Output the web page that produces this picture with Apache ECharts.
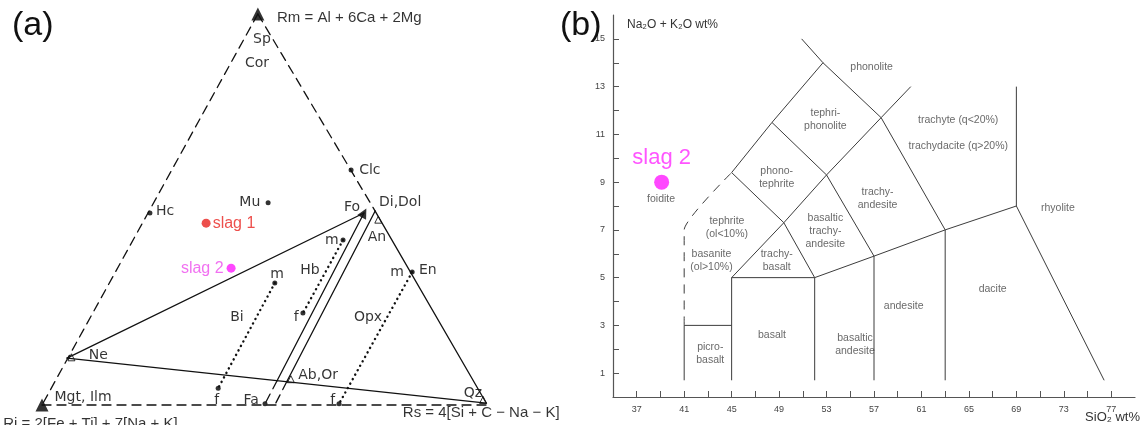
<!DOCTYPE html>
<html>
<head>
<meta charset="utf-8">
<script src="https://cdn.jsdelivr.net/npm/echarts@6/dist/echarts.min.js"></script>
<style>
  html, body { margin: 0; background: #fff; }
  #chart { width: 1142px; height: 425px; }
</style>
</head>
<body>
<div id="chart"></div>
<script>
// ---------- (a) Rm - Rs - Ri diagram, diagram units: base 0..100, apex height 100 ----------
const apexRm = [48.4, 100]
const cornerRi = [0, 0]
const cornerRs = [100, 0]
const ptDi = [74.7, 49.6]
const ptFo = [72.2, 49.1]
const ptNe = [5.6, 12.0]
const ptQz = [99.6, 0.5]
const ptAbOr = [54.9, 6.0]
const ptFa = [50.0, 0.3]
const footFo = [52.7, 6.2]
const footAn = [52.2, 0]

const solidEdges = [[ptNe, ptFo], [ptNe, ptQz], [ptDi, ptQz], [ptFo, footFo], [ptDi, ptAbOr]]
const dashedEdges = [[apexRm, cornerRi], [cornerRi, cornerRs], [apexRm, ptDi], [footFo, ptFa], [ptAbOr, footAn]]
// tie lines m -> f
const tieBi = [[52.2, 31.2], [39.5, 4.3]]
const tieHb = [[67.5, 42.2], [58.5, 23.5]]
const tieOpx = [[83.0, 34.0], [66.6, 0.3]]

const mineralDots = [[24.2, 49.1], [50.7, 51.7], [69.3, 60.1], [52.2, 31.2], [39.5, 4.3],
  [67.5, 42.2], [58.5, 23.5], [83.0, 34.0], [66.6, 0.3], [50.0, 0.3]]
const angleMarks = [[6.6, 12.2], [55.8, 6.6], [98.9, 1.3], [75.4, 47.4]]

const slagNames = ['slag 1', 'slag 2']
const slagPoints = [[36.8, 46.5], [42.4, 35.0]]

const labelsA = [
  ['Sp', 49.3, 93.4], ['Cor', 48.2, 87.5], ['Hc', 27.6, 49.4], ['Mu', 46.6, 51.9],
  ['Clc', 73.5, 60.1], ['Fo', 69.5, 50.6], ['Di,Dol', 80.3, 51.7], ['An', 75.1, 43.0],
  ['m', 65.0, 42.2], ['Hb', 60.1, 34.5], ['f', 57.0, 22.5],
  ['m', 52.7, 33.5], ['Bi', 43.7, 22.3], ['f', 39.2, 1.3],
  ['Ne', 12.6, 12.8], ['Mgt, Ilm', 9.2, 2.0], ['Fa', 46.9, 1.3], ['Ab,Or', 61.9, 7.7],
  ['Opx', 73.1, 22.5], ['m', 79.6, 34.0], ['En', 86.5, 34.5], ['f', 65.2, 1.3], ['Qz', 96.6, 3.1]
]
const formulaLabels = [
  ['Rm = Al + 6Ca + 2Mg', 52.7, 99.0],
  ['Rs = 4[Si + C − Na − K]', 80.9, -2.0],
  ['Ri = 2[Fe + Ti] + 7[Na + K]', -8.7, -4.9]
]

// ---------- (b) TAS diagram ----------
const silicaTicks = [37, 39, 41, 43, 45, 47, 49, 51, 53, 55, 57, 59, 61, 63, 65, 67, 69, 71, 73, 75, 77]
const silicaLabels = [37, 41, 45, 49, 53, 57, 61, 65, 69, 73, 77]
const alkaliTicks = [1, 2, 3, 4, 5, 6, 7, 8, 9, 10, 11, 12, 13, 14, 15]
const alkaliLabels = [1, 3, 5, 7, 9, 11, 13, 15]

const tasSolid = [
  [[41, 0.7], [41, 3], [45, 3]],
  [[45, 0.7], [45, 5], [52, 5], [52, 0.7]],
  [[52, 5], [57, 5.9], [57, 0.7]],
  [[57, 5.9], [63, 7], [63, 0.7]],
  [[63, 7], [69, 8], [76.4, 0.7]],
  [[69, 8], [69, 13]],
  [[45, 5], [49.4, 7.3], [52, 5]],
  [[49.4, 7.3], [53, 9.3], [57, 5.9]],
  [[53, 9.3], [57.6, 11.7], [63, 7]],
  [[45, 9.4], [49.4, 7.3]],
  [[45, 9.4], [48.4, 11.5], [53, 9.3]],
  [[48.4, 11.5], [52.7, 14], [57.6, 11.7]],
  [[52.7, 14], [50.9, 15]],
  [[57.6, 11.7], [60.1, 13]]
]
const tasDashed = [[41, 3], [41, 7], [45, 9.4]]

const tasLabels = [
  ['phonolite', 56.8, 13.8], ['tephri-\nphonolite', 52.9, 11.6],
  ['trachyte (q<20%)', 64.1, 11.6], ['trachydacite (q>20%)', 64.1, 10.5],
  ['phono-\ntephrite', 48.8, 9.2], ['foidite', 39.05, 8.3],
  ['tephrite\n(ol<10%)', 44.6, 7.1], ['basanite\n(ol>10%)', 43.3, 5.7],
  ['trachy-\nbasalt', 48.8, 5.7], ['basaltic\ntrachy-\nandesite', 52.9, 6.95],
  ['trachy-\nandesite', 57.3, 8.3], ['rhyolite', 72.5, 7.9],
  ['basalt', 48.4, 2.6], ['picro-\nbasalt', 43.2, 1.8],
  ['basaltic\nandesite', 55.4, 2.2], ['andesite', 59.5, 3.8], ['dacite', 67, 4.5]
]
const slag2Tas = [39.1, 9.0]

const ink = '#000'
const tasInk = '#3c3c3c'

const segSeries = (pts, type, width) => ({
  type: 'line', xAxisIndex: 0, yAxisIndex: 0, data: pts, symbol: 'none', silent: true,
  clip: false, lineStyle: { color: '#111', width: width, type: type, cap: 'round' }
})

const series = []
solidEdges.forEach(s => series.push(segSeries(s, 'solid', 1.3)))
dashedEdges.forEach(s => series.push(segSeries(s, [9, 6], 1.3)))
;[tieBi, tieHb, tieOpx].forEach(s => series.push(segSeries(s, [0.1, 5], 2.4)))

series.push({
  type: 'scatter', xAxisIndex: 0, yAxisIndex: 0, data: mineralDots, symbolSize: 5,
  itemStyle: { color: ink }, silent: true, clip: false
})
series.push({
  type: 'scatter', xAxisIndex: 0, yAxisIndex: 0, symbol: 'triangle', silent: true, clip: false,
  data: [
    { value: apexRm, symbolSize: 13 },
    { value: cornerRi, symbolSize: 13 },
    { value: ptFo, symbolSize: 10, symbolRotate: -28 }
  ],
  itemStyle: { color: ink }
})
series.push({
  type: 'scatter', xAxisIndex: 0, yAxisIndex: 0, symbol: 'triangle', symbolSize: 7, silent: true,
  clip: false, data: angleMarks, itemStyle: { color: '#fff', borderColor: ink, borderWidth: 1 }
})
series.push({
  type: 'scatter', xAxisIndex: 0, yAxisIndex: 0, symbolSize: 0, silent: true, clip: false,
  data: labelsA.map(d => ({ value: [d[1], d[2]], name: d[0] })),
  label: {
    show: true, position: 'inside', formatter: p => p.name,
    fontFamily: 'DejaVu Sans', fontSize: 14, color: ink
  }
})
series.push({
  type: 'scatter', xAxisIndex: 0, yAxisIndex: 0, symbolSize: 0, silent: true, clip: false,
  data: formulaLabels.map(d => ({ value: [d[1], d[2]], name: d[0] })),
  label: {
    show: true, position: 'right', distance: 0, formatter: p => p.name,
    fontFamily: 'Liberation Sans', fontSize: 15, color: ink
  }
})
series.push({
  type: 'scatter', xAxisIndex: 0, yAxisIndex: 0, silent: true, clip: false,
  data: [
    { value: slagPoints[0], name: slagNames[0], itemStyle: { color: '#e8231f' },
      label: { position: 'right', distance: 2, color: '#e8231f' } },
    { value: slagPoints[1], name: slagNames[1], itemStyle: { color: '#ff1aff' },
      label: { position: 'left', distance: 3, color: '#ee4cee' } }
  ],
  symbolSize: 9,
  label: { show: true, formatter: p => p.name, fontFamily: 'Liberation Sans', fontSize: 16 }
})

// (b)
tasSolid.forEach(s => series.push({
  type: 'line', xAxisIndex: 1, yAxisIndex: 1, data: s, symbol: 'none', silent: true,
  lineStyle: { color: tasInk, width: 1 }
}))
series.push({
  type: 'line', xAxisIndex: 1, yAxisIndex: 1, data: tasDashed, symbol: 'none', silent: true,
  smooth: 0.15, lineStyle: { color: tasInk, width: 1, type: [9, 7] }
})
series.push({
  type: 'scatter', xAxisIndex: 1, yAxisIndex: 1, symbolSize: 0, silent: true,
  data: tasLabels.map(d => ({ value: [d[1], d[2]], name: d[0] })),
  label: {
    show: true, position: 'inside', formatter: p => p.name, lineHeight: 13,
    fontFamily: 'Liberation Sans', fontSize: 10.5, color: '#444'
  }
})
series.push({
  type: 'scatter', xAxisIndex: 1, yAxisIndex: 1, silent: true,
  data: [{ value: slag2Tas, name: 'slag 2' }], symbolSize: 15,
  itemStyle: { color: '#ff1aff' },
  label: {
    show: true, position: 'top', distance: 6, formatter: p => p.name,
    fontFamily: 'Liberation Sans', fontSize: 22, color: '#ff2bff'
  }
})

const chart = echarts.init(document.getElementById('chart'))
chart.setOption({
  animation: false,
  backgroundColor: '#fff',
  title: [
    { text: '(a)', left: 7, top: 4, textStyle: { fontSize: 34, fontWeight: 'normal', color: '#111', fontFamily: 'Liberation Sans' } },
    { text: '(b)', left: 555, top: 4, textStyle: { fontSize: 34, fontWeight: 'normal', color: '#111', fontFamily: 'Liberation Sans' } }
  ],
  grid: [
    { left: 42, top: 14, width: 446, height: 391, outerBoundsMode: 'none' },
    { left: 613, top: 15, right: 7, bottom: 28, outerBoundsMode: 'none' }
  ],
  xAxis: [
    { gridIndex: 0, type: 'value', min: 0, max: 100, show: false },
    {
      gridIndex: 1, type: 'value', min: 35, max: 79,
      splitLine: { show: false },
      axisLine: { lineStyle: { color: '#555', width: 1.2 } },
      axisTick: { inside: true, length: 6, customValues: silicaTicks, lineStyle: { color: '#555' } },
      axisLabel: { customValues: silicaLabels, fontSize: 9, color: '#444', margin: 8, fontFamily: 'Liberation Sans' },
      name: 'SiO₂ wt%', nameLocation: 'end', nameGap: 5, nameMoveOverlap: false,
      nameTextStyle: { align: 'right', verticalAlign: 'top', padding: [14, 0, 0, 0], fontSize: 13, color: '#333', fontFamily: 'Liberation Sans' }
    }
  ],
  yAxis: [
    { gridIndex: 0, type: 'value', min: 0, max: 100, show: false },
    {
      gridIndex: 1, type: 'value', min: 0, max: 16,
      splitLine: { show: false },
      axisLine: { show: true, lineStyle: { color: '#555', width: 1.2 } },
      axisTick: { show: true, inside: true, length: 6, customValues: alkaliTicks, lineStyle: { color: '#555' } },
      axisLabel: { customValues: alkaliLabels, fontSize: 9, color: '#444', margin: 8, fontFamily: 'Liberation Sans' },
      name: 'Na₂O + K₂O wt%', nameLocation: 'end', nameGap: -10, nameMoveOverlap: false,
      nameTextStyle: { align: 'left', verticalAlign: 'middle', padding: [0, 0, 0, 14], fontSize: 12, color: '#333', fontFamily: 'Liberation Sans' }
    }
  ],
  series: series
})
</script>
</body>
</html>
